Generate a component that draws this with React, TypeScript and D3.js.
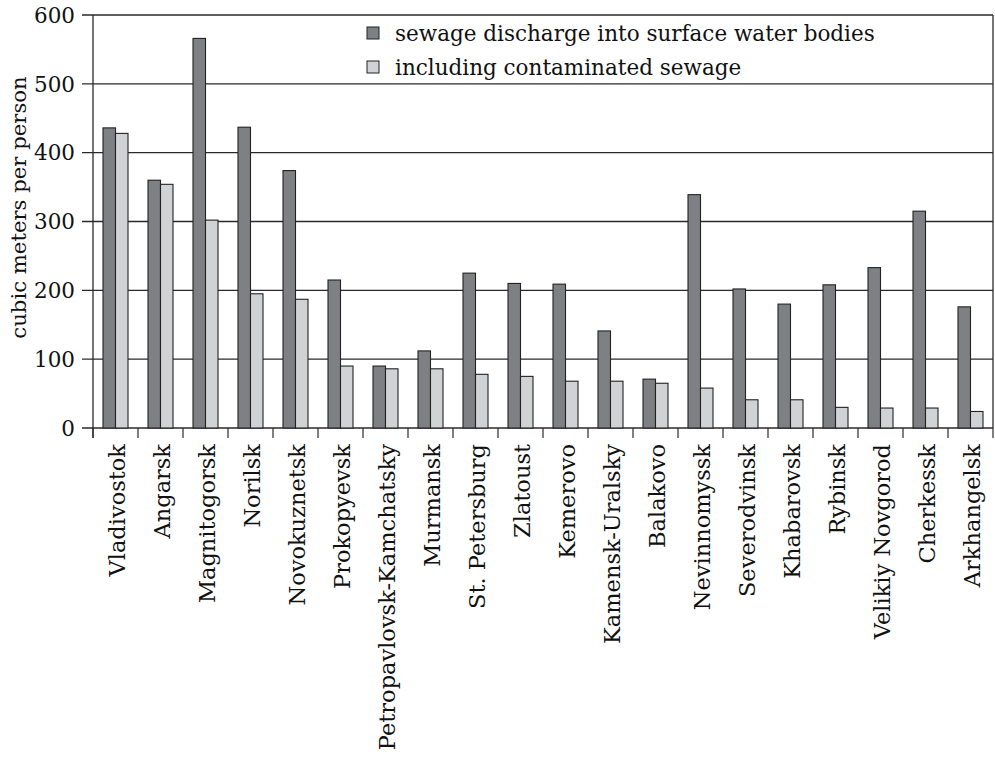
import React from "react";
import * as d3 from "d3";

const cities = [
  "Vladivostok", "Angarsk", "Magnitogorsk", "Norilsk", "Novokuznetsk", "Prokopyevsk",
  "Petropavlovsk-Kamchatsky", "Murmansk", "St. Petersburg", "Zlatoust", "Kemerovo",
  "Kamensk-Uralsky", "Balakovo", "Nevinnomyssk", "Severodvinsk", "Khabarovsk",
  "Rybinsk", "Velikiy Novgorod", "Cherkessk", "Arkhangelsk",
];
const discharge = [436, 360, 566, 437, 374, 215, 90, 112, 225, 210, 209, 141, 71, 339, 202, 180, 208, 233, 315, 176];
const contaminated = [428, 354, 302, 195, 187, 90, 86, 86, 78, 75, 68, 68, 65, 58, 41, 41, 30, 29, 29, 24];
const seriesNames = ["sewage discharge into surface water bodies", "including contaminated sewage"];
const yTicks = [0, 100, 200, 300, 400, 500, 600];
const yLabel = "cubic meters per person";

const W = 995, H = 759;
const left = 93, right = 993, top = 15, bottom = 428;
const colors = ["#7f8083", "#d1d2d4"];
const FONT = "'DejaVu Serif', serif";
const TXT = "#111";

export default function App() {
  const x = d3.scaleBand<string>().domain(cities).range([left, right]).paddingInner(20 / 45).paddingOuter(10 / 45);
  const inner = d3.scaleBand<string>().domain(["0", "1"]).range([0, x.bandwidth()]);
  const y = d3.scaleLinear().domain([0, 600]).range([bottom, top]);
  const step = x.step();
  const series = [discharge, contaminated];
  const tickXs = d3.range(cities.length + 1).map((i) => left + i * step);

  return (
    <svg width={W} height={H} style={{ position: "absolute", left: 0, top: 0, background: "#fff" }} fontFamily={FONT}>
      {yTicks.map((t) => (
        <line key={"g" + t} x1={left - 11} x2={right} y1={y(t)} y2={y(t)} stroke="#2a2a2a" strokeWidth={1.3} />
      ))}
      {yTicks.map((t) => (
        <text key={"yl" + t} x={left - 18} y={y(t)} dy="0.36em" textAnchor="end" fontSize={21.5} fill={TXT}>
          {t}
        </text>
      ))}
      <line x1={left} x2={left} y1={top} y2={bottom + 10} stroke="#2a2a2a" strokeWidth={1.3} />
      <line x1={right} x2={right} y1={top} y2={bottom} stroke="#2a2a2a" strokeWidth={1.3} />
      {tickXs.map((tx, i) => (
        <line key={"xt" + i} x1={tx} x2={tx} y1={bottom} y2={bottom + 10} stroke="#2a2a2a" strokeWidth={1.2} />
      ))}
      {cities.map((c, i) => (
        <g key={c}>
          {series.map((s, k) => (
            <rect
              key={k}
              x={(x(c) as number) + (inner(String(k)) as number)}
              y={y(s[i])}
              width={inner.bandwidth()}
              height={y(0) - y(s[i])}
              fill={colors[k]}
              stroke="#222"
              strokeWidth={1.1}
            />
          ))}
        </g>
      ))}
      {cities.map((c) => {
        const cx = (x(c) as number) + x.bandwidth() / 2;
        return (
          <text
            key={"xl" + c}
            transform={`translate(${cx + 1},${bottom + 16}) rotate(-90)`}
            textAnchor="end"
            dy="0.36em"
            fontSize={22.5}
            fill={TXT}
          >
            {c}
          </text>
        );
      })}
      <text transform={`translate(18,${(65 + 350) / 2}) rotate(-90)`} textAnchor="middle" dy="0.36em" fontSize={21.2} fill={TXT}>
        {yLabel}
      </text>
      {seriesNames.map((n, k) => (
        <g key={n} transform={`translate(367,${33 + k * 34})`}>
          <rect x={0} y={-6} width={12} height={12} fill={colors[k]} stroke="#222" strokeWidth={1} />
          <text x={28} y={0} dy="0.36em" fontSize={21.5} fill={TXT}>
            {n}
          </text>
        </g>
      ))}
    </svg>
  );
}
